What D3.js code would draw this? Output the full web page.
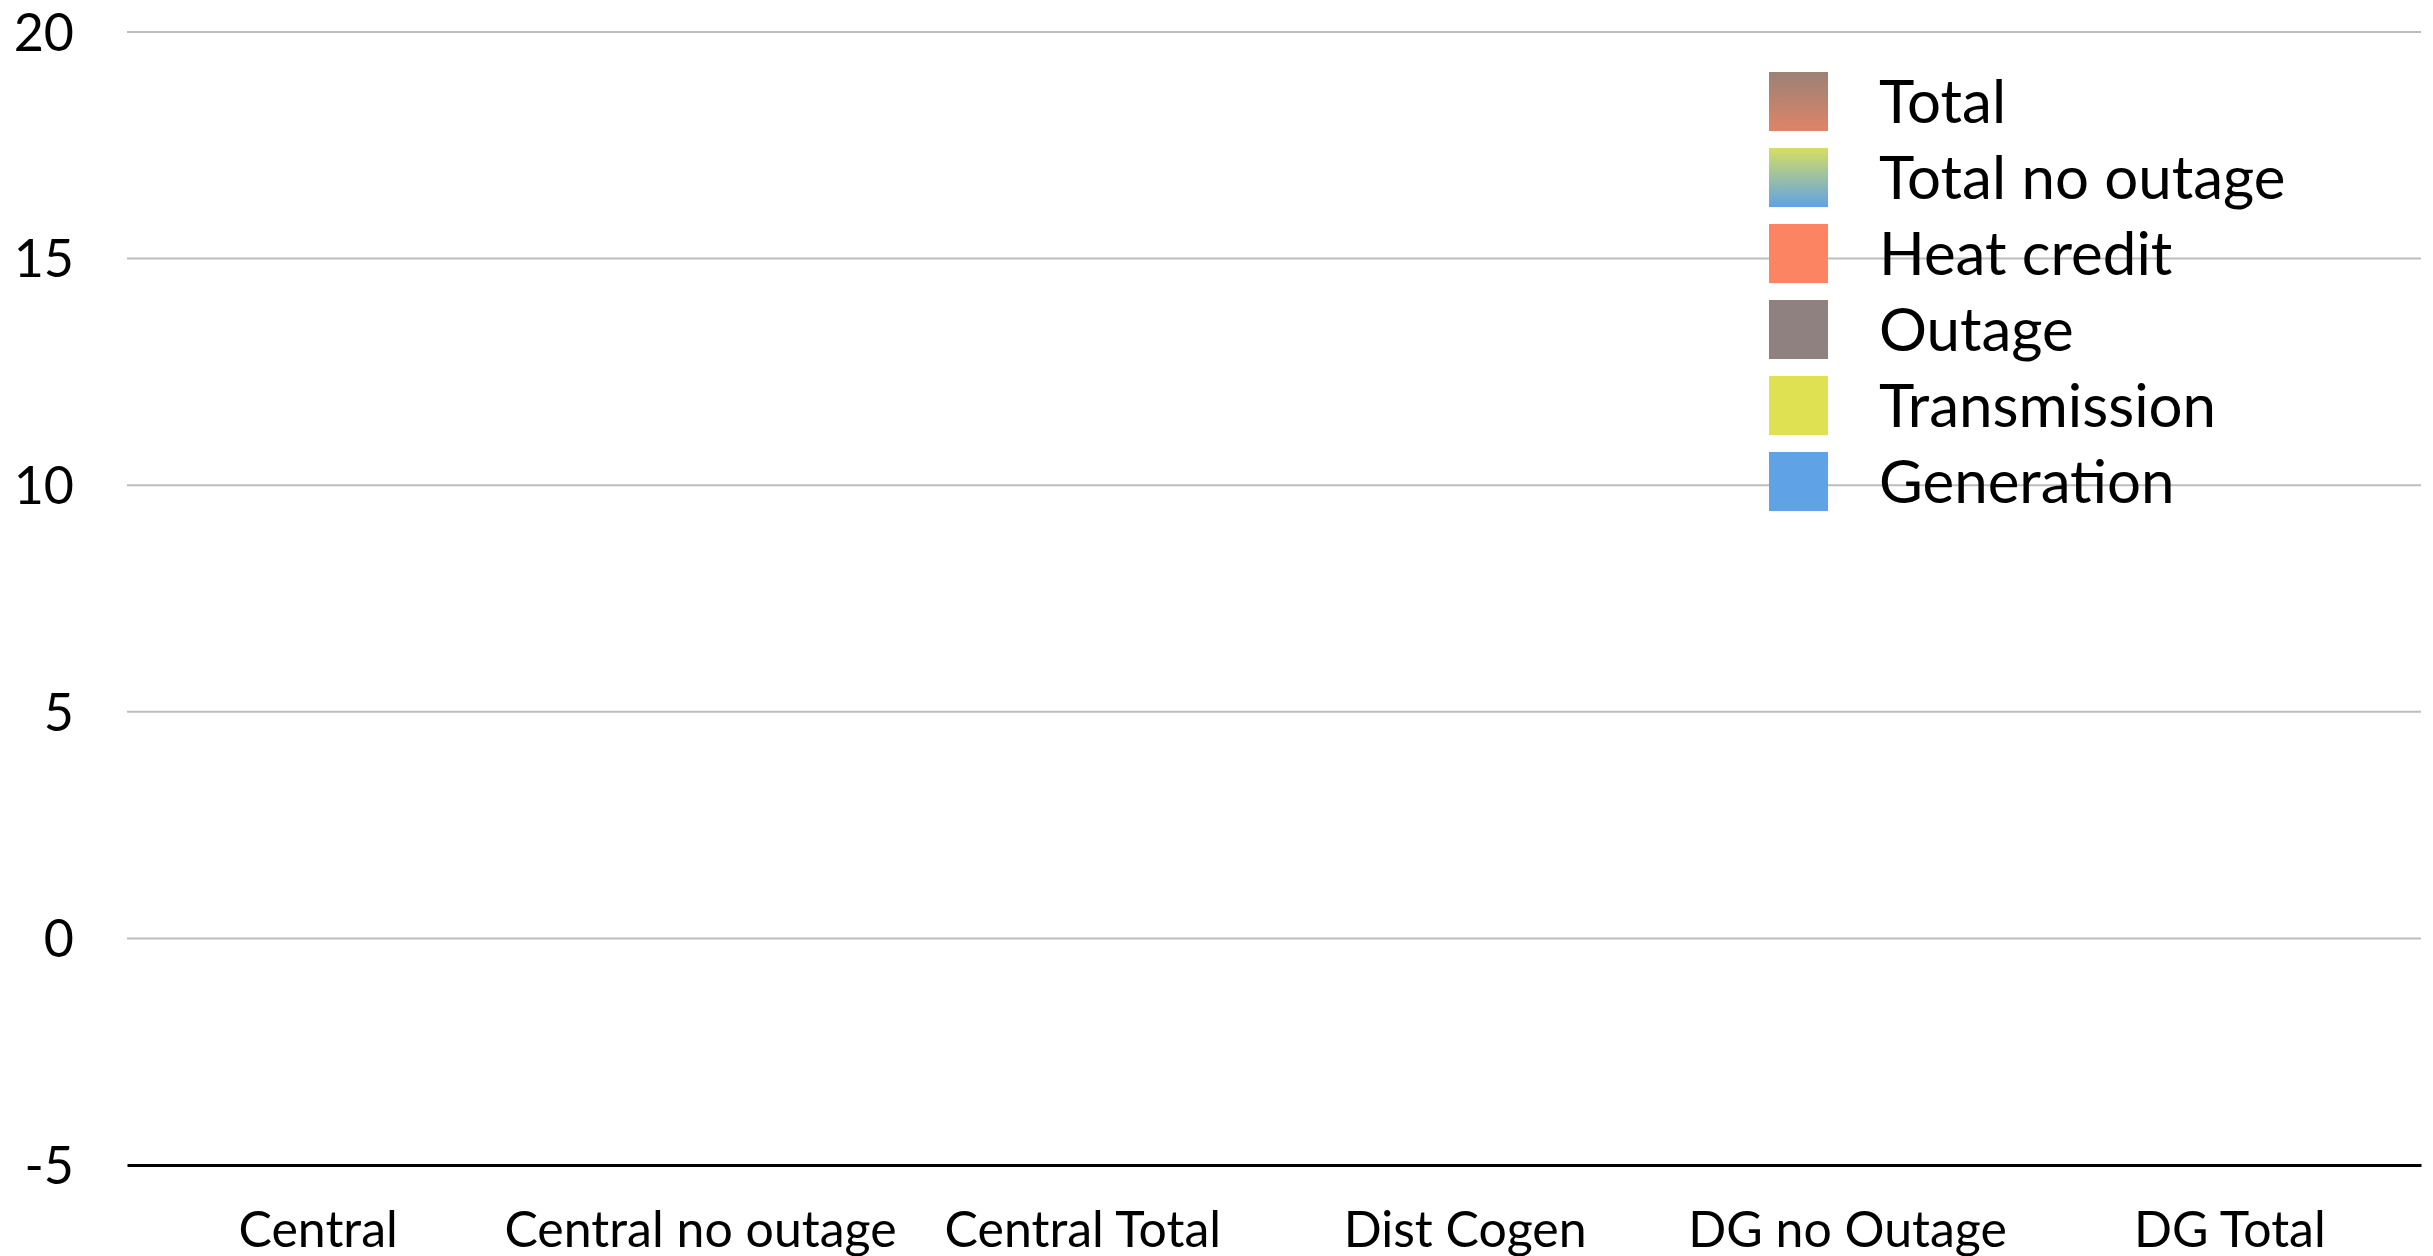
<!DOCTYPE html>
<html>
<head>
<meta charset="utf-8">
<script src="https://cdn.jsdelivr.net/npm/d3@7"></script>
<style>
  html, body { margin: 0; padding: 0; background: #fff; }
  svg { display: block; }
  text { font-family: Lato, "Open Sans", sans-serif; fill: #000; }
</style>
</head>
<body>
<svg id="chart" width="2433" height="1256"></svg>
<script>
// Scenario categories along the x axis
const categories = ["Central", "Central no outage", "Central Total", "Dist Cogen", "DG no Outage", "DG Total"];

// Stacked cost components (legend order); no values are plotted for any scenario
const seriesNames = ["Total", "Total no outage", "Heat credit", "Outage", "Transmission", "Generation"];
const totalValues = [null, null, null, null, null, null];
const totalNoOutageValues = [null, null, null, null, null, null];
const heatCreditValues = [null, null, null, null, null, null];
const outageValues = [null, null, null, null, null, null];
const transmissionValues = [null, null, null, null, null, null];
const generationValues = [null, null, null, null, null, null];

// Y axis ticks
const yTicks = [-5, 0, 5, 10, 15, 20];

const seriesValues = [totalValues, totalNoOutageValues, heatCreditValues, outageValues, transmissionValues, generationValues];

const svg = d3.select("#chart");
const W = 2433, H = 1256;
const margin = { left: 127, right: 12, top: 32, bottom: 91 };

const x = d3.scaleBand().domain(categories).range([margin.left, W - margin.right]).paddingInner(0.3).paddingOuter(0.15);
const xCenter = d3.scaleBand().domain(categories).range([margin.left, W - margin.right]);
const y = d3.scaleLinear().domain([-5, 20]).range([H - margin.bottom, margin.top]);

// Swatch fills: gradients for the two total series, flat colours for components
const defs = svg.append("defs");
function vGrad(id, top, bottom) {
  const g = defs.append("linearGradient").attr("id", id).attr("x1", 0).attr("y1", 0).attr("x2", 0).attr("y2", 1);
  g.append("stop").attr("offset", "0%").attr("stop-color", top);
  g.append("stop").attr("offset", "100%").attr("stop-color", bottom);
}
vGrad("gTotal", "#9b8176", "#de8467");
vGrad("gTotalNo", "#d6de62", "#5fa2e6");
const fills = ["url(#gTotal)", "url(#gTotalNo)", "#fc8462", "#8f8180", "#e0e152", "#5fa2e6"];

// Horizontal gridlines
const grid = svg.append("g");
grid.selectAll("line").data(yTicks.filter(t => t !== -5)).join("line")
  .attr("x1", margin.left).attr("x2", W - margin.right)
  .attr("y1", d => y(d)).attr("y2", d => y(d))
  .attr("stroke", "#bdbdbd").attr("stroke-width", 2);

// Y axis labels (plain hyphen for negatives)
const yAxis = d3.axisLeft(y).tickValues(yTicks).tickSize(0).tickPadding(53).tickFormat(d => String(d));
const yg = svg.append("g").attr("transform", `translate(${margin.left},0)`).call(yAxis);
yg.select(".domain").remove();
yg.selectAll("text").style("font-size", "52px").attr("font-family", null).attr("dy", "0.35em");

// Bars (stacked from the series values)
const barsG = svg.append("g");
categories.forEach((c, i) => {
  let posBase = 0, negBase = 0;
  seriesValues.forEach((vals, s) => {
    const v = vals[i];
    if (v == null) return;
    const y0 = v >= 0 ? posBase : negBase;
    const y1 = y0 + v;
    if (v >= 0) posBase = y1; else negBase = y1;
    barsG.append("rect")
      .attr("x", x(c)).attr("width", x.bandwidth())
      .attr("y", y(Math.max(y0, y1))).attr("height", Math.abs(y(y0) - y(y1)))
      .attr("fill", fills[s]);
  });
});

// Bottom axis line and category labels
const xAxis = d3.axisBottom(xCenter).tickSize(0).tickPadding(46);
const xg = svg.append("g").attr("transform", `translate(0,${y(-5)})`).call(xAxis);
xg.select(".domain").attr("stroke", "#000").attr("stroke-width", 3);
xg.selectAll("text").style("font-size", "50px").attr("font-family", null).attr("dy", "0.71em");

// Legend
const legend = svg.append("g").attr("transform", "translate(1769,72)");
const rowH = 76;
const item = legend.selectAll("g").data(seriesNames).join("g")
  .attr("transform", (d, i) => `translate(0,${i * rowH})`);
item.append("rect").attr("width", 59).attr("height", 59).attr("fill", (d, i) => fills[i]);
item.append("text").attr("x", 110).attr("y", 29.5).attr("dy", "0.35em")
  .style("font-size", "60px").text(d => d);
</script>
</body>
</html>
